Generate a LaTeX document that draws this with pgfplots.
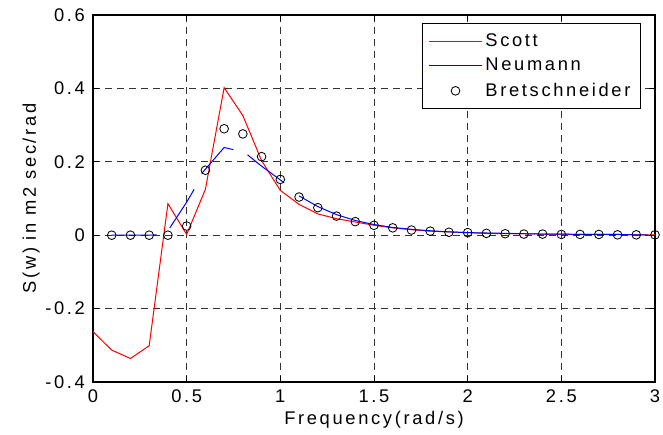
\documentclass[border=0pt]{standalone}
\usepackage{fontspec}
\setmainfont{Liberation Sans}[LetterSpace=14.5]
\usepackage{pgfplots}
\pgfplotsset{compat=1.18}
\begin{document}
\fontsize{11}{13}\selectfont
\begin{tikzpicture}
\begin{axis}[
  scale only axis, width=337.2pt, height=220.2pt,
  xmin=0, xmax=3, ymin=-0.4, ymax=0.6,
  xtick={0,0.5,1,1.5,2,2.5,3},
  ytick={-0.4,-0.2,0,0.2,0.4,0.6},
  tick align=inside, tick pos=both, major tick length=3.6pt,
  grid=major,
  grid style={black!80, line width=0.5pt, dash pattern=on 4.2pt off 3pt},
  axis line style={line width=0.7pt},
  tick style={black, line width=0.5pt},
  /pgf/number format/assume math mode=true,
  yticklabel style={/pgf/number format/fixed, /pgf/number format/precision=1, xshift=-1pt},
  xticklabel style={/pgf/number format/fixed, yshift=-1pt},
  xlabel={Frequency(rad/s)}, ylabel={S(w) in m2 sec/rad},
  xlabel style={at={(axis description cs:0.5,0)}, anchor=base, yshift=-25.8pt},
  ylabel style={at={(axis description cs:-0.11,0.5)}, anchor=center},
  legend style={at={(0.975,0.978)}, anchor=north east, draw=black, line width=0.6pt,
    fill=white, inner xsep=4pt, inner ysep=4pt, row sep=1.5pt,
    nodes={inner sep=2pt}},
  legend cell align=left,
  legend image code/.code={\draw[mark repeat=2,mark phase=2,#1] plot coordinates {(0cm,0cm) (0.55cm,0cm) (1.1cm,0cm)};},
  legend image post style={mark size=2.6pt},
]
\addplot[red, line width=0.6pt] coordinates {
(0,-0.263) (0.1,-0.313) (0.2,-0.336) (0.3,-0.301) (0.4,0.086) (0.5,0.002)
(0.6,0.125) (0.7,0.402) (0.8,0.326) (0.9,0.203) (1.0,0.122) (1.1,0.084)
(1.2,0.058) (1.3,0.045) (1.4,0.036) (1.5,0.027) (1.6,0.020) (1.7,0.015)
(1.8,0.011) (1.9,0.009) (2.0,0.007) (2.1,0.005) (2.2,0.004) (2.3,0.004)
(2.4,0.003) (2.5,0.003) (2.6,0.002) (2.7,0.002) (2.8,0.002) (2.9,0.001) (3.0,0.001)
};
\addlegendentry{Scott}
\addplot[blue, line width=0.6pt] coordinates {
(1.1,0.107) (1.2,0.078) (1.3,0.056) (1.4,0.040) (1.5,0.029) (1.6,0.021)
(1.7,0.016) (1.8,0.012) (1.9,0.009) (2.0,0.007) (2.1,0.006) (2.2,0.005)
(2.3,0.004) (2.4,0.003) (2.5,0.003) (2.6,0.002) (2.7,0.002) (2.8,0.002)
(2.9,0.001) (2.96,0.001)
};
\addlegendentry{Neumann}
\addplot[blue, line width=0.6pt, forget plot] coordinates {(0.1,0) (0.2,0) (0.3,0) (0.34,0.001)};
\addplot[blue, line width=0.6pt, forget plot] coordinates {(0.41,0.02) (0.50,0.09) (0.54,0.125)};
\addplot[blue, line width=0.6pt, forget plot] coordinates {(0.58,0.168) (0.70,0.239) (0.75,0.233)};
\addplot[blue, line width=0.6pt, forget plot] coordinates {(0.825,0.219) (0.9,0.188) (1.02,0.143)};
\addplot[only marks, mark=o, mark size=2.6pt, black, line width=0.5pt] coordinates {
(0.1,0) (0.2,0) (0.3,0) (0.4,0) (0.5,0.025) (0.6,0.177) (0.7,0.29) (0.8,0.276)
(0.9,0.214) (1.0,0.152) (1.1,0.104) (1.2,0.075) (1.3,0.052) (1.4,0.037)
(1.5,0.027) (1.6,0.020) (1.7,0.014) (1.8,0.011) (1.9,0.008) (2.0,0.007)
(2.1,0.005) (2.2,0.004) (2.3,0.003) (2.4,0.003) (2.5,0.002) (2.6,0.002)
(2.7,0.002) (2.8,0.001) (2.9,0.001) (3.0,0.001)
};
\addlegendentry{Bretschneider}
\end{axis}
\pgfresetboundingbox
\path[use as bounding box] ([shift={(-55.8pt,-31.8pt)}]current axis.south west) rectangle ([shift={(4.8pt,9pt)}]current axis.north east);
\end{tikzpicture}
\end{document}
